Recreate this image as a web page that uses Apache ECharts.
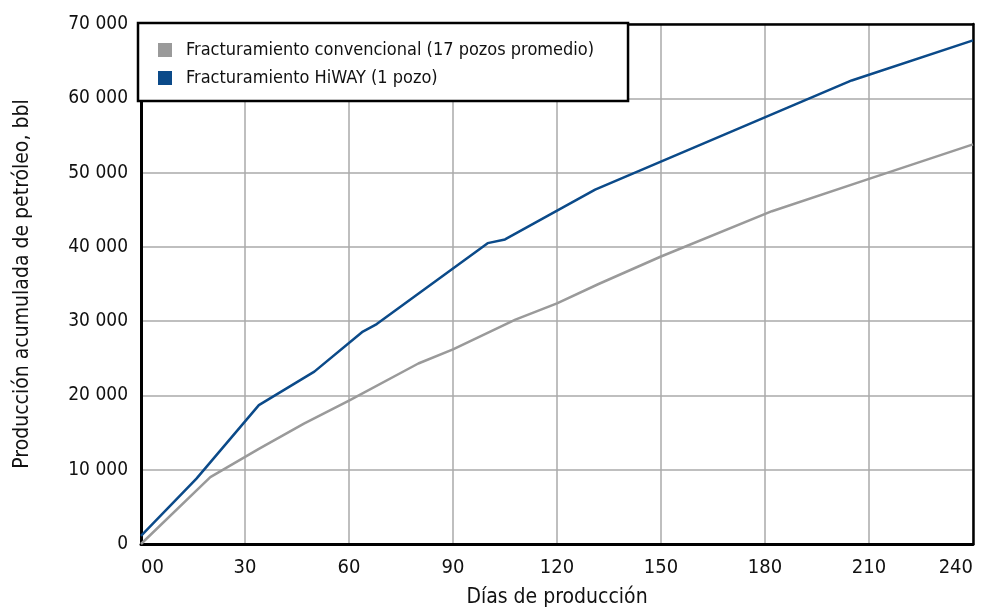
<!DOCTYPE html>
<html>
<head>
<meta charset="utf-8">
<script src="https://cdn.jsdelivr.net/npm/echarts@6/dist/echarts.min.js"></script>
<style>
html,body{margin:0;padding:0;background:#fff;}
#chart{width:987px;height:609px;}
</style>
</head>
<body>
<div id="chart"></div>
<script>
var fuente = "'Liberation Sans Narrow', 'DejaVu Sans Condensed', sans-serif";
var nombres = ['Fracturamiento convencional (17 pozos promedio)', 'Fracturamiento HiWAY (1 pozo)'];
//[días, bbl]
var convencional = [[0,0],[20,9000],[34,12800],[47,16200],[60,19300],[80,24300],[90,26200],[108,30200],[120,32400],[132,35000],[150,38700],[182,44800],[210,49150],[240,53800]];
var hiway = [[0,1100],[16,8800],[34,18700],[50,23200],[64,28600],[68,29600],[100,40500],[105,41000],[131,47700],[205,62400],[240,67800]];

function miles(v){ //70000 -> "70 000"
	if(v == 0) return '0';
	var s = String(v);
	return s.slice(0, s.length-3) + ' ' + s.slice(s.length-3);
}

var myChart = echarts.init(document.getElementById('chart'));
var option = {
	animation: false,
	textStyle: {fontFamily: fuente},
	grid: {left: 141, right: 14, top: 24, bottom: 65, containLabel: false, outerBoundsMode: 'none'},
	legend: {
		orient: 'vertical',
		left: 138, top: 23,
		icon: 'rect',
		itemWidth: 14, itemHeight: 14, itemGap: 10,
		padding: [18, 34, 14, 20],
		backgroundColor: '#fff',
		borderColor: '#000', borderWidth: 2.5, borderRadius: 0,
		textStyle: {fontFamily: fuente, fontSize: 18, lineHeight: 14, color: '#111', padding: [0,0,0,9]},
		data: nombres
	},
	xAxis: [{
		type: 'value', min: 0, max: 240, interval: 30,
		name: 'Días de producción', nameLocation: 'middle', nameGap: 43,
		nameTextStyle: {fontFamily: fuente, fontSize: 21, color: '#111'},
		axisLine: {onZero: false, lineStyle: {color: '#000', width: 3}},
		axisTick: {show: false},
		axisLabel: {fontFamily: fuente, fontSize: 20, color: '#111', margin: 14,
			alignMinLabel: 'left', alignMaxLabel: 'right',
			formatter: function(v){ return v == 0 ? '00' : String(v); }},
		splitLine: {lineStyle: {color: '#aaa', width: 1.5}}
	},{
		type: 'value', position: 'top', min: 0, max: 240,
		axisLine: {show: true, onZero: false, lineStyle: {color: '#000', width: 2.5}},
		axisTick: {show: false}, axisLabel: {show: false}, splitLine: {show: false}
	}],
	yAxis: [{
		type: 'value', min: 0, max: 70000, interval: 10000,
		name: 'Producción acumulada de petróleo, bbl', nameLocation: 'middle', nameGap: 108,
		nameTextStyle: {fontFamily: fuente, fontSize: 21, color: '#111'},
		axisLine: {show: true, onZero: false, lineStyle: {color: '#000', width: 3}},
		axisTick: {show: false},
		axisLabel: {fontFamily: fuente, fontSize: 19, color: '#111', margin: 13, formatter: miles},
		splitLine: {lineStyle: {color: '#aaa', width: 1.5}}
	},{
		type: 'value', position: 'right', min: 0, max: 70000,
		axisLine: {show: true, onZero: false, lineStyle: {color: '#000', width: 2.5}},
		axisTick: {show: false}, axisLabel: {show: false}, splitLine: {show: false}
	}],
	series: [{
		name: nombres[0], type: 'line', data: convencional,
		symbol: 'none', color: '#9a9a9a',
		lineStyle: {width: 2.5, color: '#9a9a9a'}, z: 3
	},{
		name: nombres[1], type: 'line', data: hiway,
		symbol: 'none', color: '#0b4a89',
		lineStyle: {width: 2.5, color: '#0b4a89'}, z: 4
	}]
};
myChart.setOption(option);
</script>
</body>
</html>
